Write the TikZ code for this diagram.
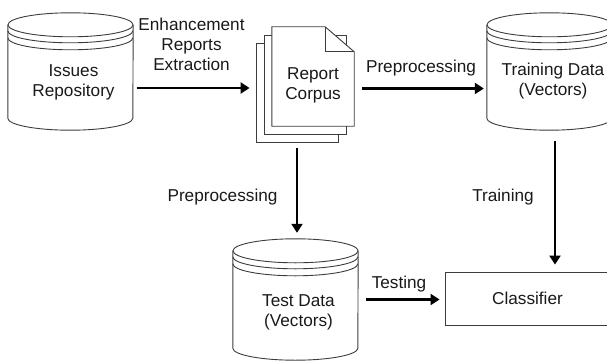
\documentclass[tikz,border=0pt]{standalone}
\usepackage{fontspec}
\setmainfont{Liberation Sans}
\usetikzlibrary{arrows.meta,calc}
\definecolor{edge}{HTML}{3C3C3C}
\tikzset{
  outline/.style={draw=edge, line width=0.9pt},
  body/.style={inner sep=0pt, minimum width=125pt, minimum height=#1},
  txt/.style={align=center, inner sep=0pt, text=black!90,
    font=\fontsize{17.2}{20}\selectfont},
  flow/.style={draw=black, line width=2.4pt,
    -{Triangle[length=9pt,width=11pt]}},
  sheet/.style={outline, fill=white, inner sep=0pt,
    minimum width=82pt, minimum height=99pt},
}
% database drum drawn around a body node
\newcommand\dbdrum[1]{%
  \draw[outline] ([yshift=-12pt]#1.north) ellipse [x radius=62.5pt, y radius=12pt];
  \draw[outline] ([yshift=-12pt]#1.north west) -- ([yshift=12pt]#1.south west)
    arc [start angle=180, end angle=360, x radius=62.5pt, y radius=12pt]
    -- ([yshift=-12pt]#1.north east);
  \draw[outline] ([yshift=-18pt]#1.north west)
    arc [start angle=180, end angle=360, x radius=62.5pt, y radius=12pt];
  \draw[outline] ([yshift=-25pt]#1.north west)
    arc [start angle=180, end angle=360, x radius=62.5pt, y radius=12pt];
}
\begin{document}
\begin{tikzpicture}[x=1pt, y=-1pt]
\useasboundingbox (0,0) rectangle (607,361);
\clip (0,0) rectangle (607,361);

% databases
\node[body=117pt] (issues) at (70.5,71.5) {};
\node[body=117pt] (training) at (549.5,71.5) {};
\node[body=121pt] (test) at (295.5,299.5) {};
\dbdrum{issues}
\dbdrum{training}
\dbdrum{test}
\node[txt] (issuesText) at ([xshift=3pt,yshift=-10.5pt]issues.center) {Issues\\Repository};
\node[txt] (trainingText) at ([xshift=3.5pt,yshift=-9.5pt]training.center) {Training Data\\(Vectors)};
\node[txt] (testText) at ([xshift=3pt,yshift=-12.5pt]test.center) {Test Data\\(Vectors)};

% stack of report pages
\node[inner sep=0pt, minimum width=82pt, minimum height=99pt] (corpus) at (313,76.5) {};
\node[sheet] (page3) at ([shift={(-16,16)}]corpus.center) {};
\node[sheet] (page2) at ([shift={(-8,8)}]corpus.center) {};
\filldraw[outline, fill=white] (corpus.south west) -- (corpus.north west)
  -- ([xshift=-29pt]corpus.north east) -- ([yshift=-25pt]corpus.north east)
  -- (corpus.south east) -- cycle;
\draw[outline] ([xshift=-29pt]corpus.north east)
  -- ([xshift=-29pt,yshift=-25pt]corpus.north east)
  -- ([yshift=-25pt]corpus.north east);
\node[txt] (corpusText) at ([yshift=-8.5pt]corpus.center) {Report\\Corpus};

% classifier
\node[outline, inner sep=0pt, minimum width=165pt, minimum height=53pt,
  txt] (classifier) at (527.5,298.5) {Classifier};

% connectors
\draw[flow, shorten <=3.5pt, shorten >=6pt] ([yshift=-16.5pt]issues.east)
  -- ([yshift=-16.5pt]issues.east -| page3.west);
\draw[flow, shorten <=8pt, shorten >=3pt] ([yshift=-12pt]corpus.east)
  -- ([yshift=-12pt]corpus.east -| training.west);
\draw[flow, shorten <=6pt, shorten >=6pt] (page3.south)
  -- (page3.south |- test.north);
\draw[flow, shorten <=11pt, shorten >=7pt] ([xshift=5.5pt]training.south)
  -- ([xshift=5.5pt]training.south |- classifier.north);
\draw[flow, shorten <=8pt, shorten >=5pt] (test.east)
  -- (test.east -| classifier.west);

% connector labels
\node[txt] (extractLabel) at (191.5,44) {Enhancement\\Reports\\Extraction};
\node[txt, anchor=base] (prepLabelA) at (421,72.5) {Preprocessing};
\node[txt, anchor=base] (prepLabelB) at (222.5,201.5) {Preprocessing};
\node[txt, anchor=base] (trainLabel) at (503,201.5) {Training};
\node[txt, anchor=base] (testLabel) at (399,288.5) {Testing};
\end{tikzpicture}
\end{document}
